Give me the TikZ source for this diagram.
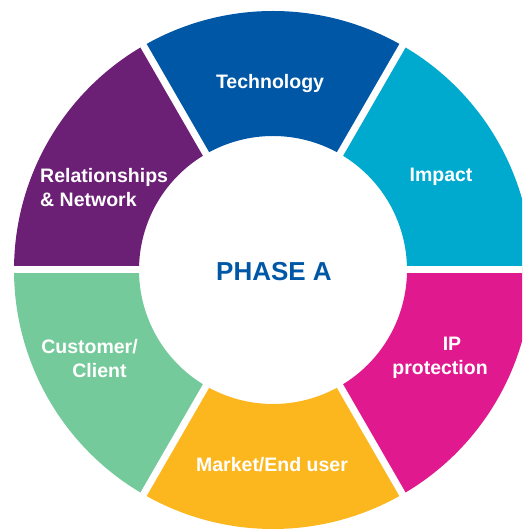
\documentclass[tikz,border=0pt]{standalone}
\usepackage{fontspec}
\setmainfont{Liberation Sans}
\usepackage{tikz}

\definecolor{techblue}{HTML}{0057A6}
\definecolor{impactcyan}{HTML}{00A9CE}
\definecolor{ipmagenta}{HTML}{E0198F}
\definecolor{marketyellow}{HTML}{FDB71E}
\definecolor{customergreen}{HTML}{74CA9A}
\definecolor{relpurple}{HTML}{6B1F75}

\tikzset{
  seglabel/.style={text=white,font=\fontsize{19.5}{24}\selectfont\bfseries,inner sep=0pt},
  phaselabel/.style={text=techblue,font=\fontsize{26}{30}\selectfont\bfseries,inner sep=0pt}
}

\begin{document}
\begin{tikzpicture}[x=1pt,y=1pt]
  \useasboundingbox (0,0) rectangle (522,529);
  \clip (0,0) rectangle (522,529);

  \begin{scope}[shift={(273,259)}]
    \foreach \a/\c in {0/impactcyan,60/techblue,120/relpurple,180/customergreen,240/marketyellow,300/ipmagenta}{
      \fill[color=\c] (\a:134) arc[start angle=\a,end angle=\a+60,radius=134]
        -- (\a+60:259) arc[start angle=\a+60,end angle=\a,radius=259] -- cycle;
    }
    \foreach \a in {0,60,...,300}
      \draw[white,line width=7pt] (\a:120) -- (\a:270);
  \end{scope}

  \node[phaselabel] (phase) at (274,257) {PHASE A};

  \node[seglabel] (tech) at (270,445) {Technology};
  \node[seglabel] (impact) at (441,352) {Impact};
  \node[seglabel,anchor=west,align=left] (rel) at (40,341) {Relationships\\ \& Network};
  \node[seglabel,align=center] (cust) at (89.5,170.5) {Customer/\\ \hspace*{20pt}Client};
  \node[seglabel,align=center] (ip) at (440,171) {\hspace*{24pt}IP\\ protection};
  \node[seglabel] (market) at (272,64) {Market/End user};
\end{tikzpicture}
\end{document}
